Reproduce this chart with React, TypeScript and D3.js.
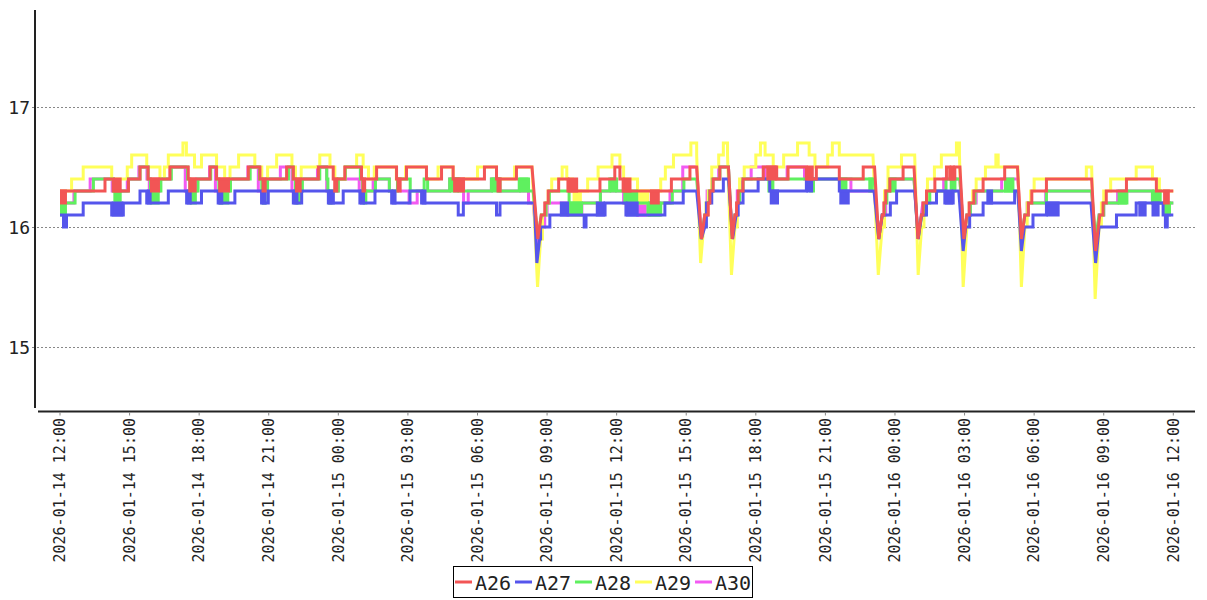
import { useEffect, useMemo, useRef } from "react";
import * as d3 from "d3";
import React from "react";

const WIDTH = 1207;
const HEIGHT = 600;
const PLOT = { left: 60, right: 1173.3, axisX: 35, axisY: 411.5, top: 10, end: 1195 };
const FONT = "'DejaVu Sans Mono', 'Liberation Mono', monospace";

// time axis: hours counted from the first tick
const START = Date.UTC(2026, 0, 14, 12);
const END = Date.UTC(2026, 0, 16, 12);
const Y_TICKS = [15, 16, 17];

const SERIES = ["A26", "A27", "A28", "A29", "A30"];
const COLORS = ["#f25555", "#5555ec", "#5ff05f", "#ffff5a", "#f25af2"];

// [hour, value] = step to value at hour, [hour, value, 1] = straight ramp to it
type Pt = number[];
// [fromHour, toHour, low, high] = stretch where the reading flickers between two values
type Band = number[];

const A26: Pt[] = [
  [0, 16.3], [1.94, 16.4], [2.3, 16.3], [2.95, 16.4], [3.45, 16.5], [3.8, 16.4], [4.74, 16.5], [5.53, 16.4],
  [6.47, 16.5], [6.75, 16.4], [8.12, 16.5], [8.62, 16.4], [9.77, 16.5], [10.06, 16.4], [11.14, 16.5], [11.78, 16.4],
  [12.28, 16.5], [13.0, 16.4], [13.65, 16.5], [14.51, 16.4], [14.94, 16.5], [15.8, 16.4], [16.45, 16.5], [16.95, 16.4],
  [18.3, 16.5], [18.82, 16.4], [19.68, 16.5], [20.35, 16.5], [20.6, 15.9, 1], [20.75, 16.1, 1], [20.9, 16.2], [21.05, 16.3],
  [21.5, 16.4], [21.9, 16.3], [23.28, 16.4], [23.92, 16.5], [24.14, 16.4], [24.28, 16.3], [26.36, 16.4], [27.16, 16.5],
  [27.45, 16.5], [27.66, 15.9, 1], [27.8, 16.1, 1], [27.95, 16.2], [28.02, 16.3], [28.16, 16.4], [28.45, 16.5], [28.82, 16.5],
  [28.98, 15.9, 1], [29.1, 16.1, 1], [29.17, 16.2], [29.24, 16.3], [29.45, 16.4], [30.32, 16.5], [30.9, 16.4], [31.39, 16.5],
  [32.18, 16.4], [32.61, 16.5], [33.6, 16.4], [34.63, 16.5], [35.12, 16.5], [35.3, 15.9, 1], [35.45, 16.1, 1], [35.52, 16.2],
  [35.6, 16.3], [35.78, 16.4], [36.35, 16.5], [36.82, 16.5], [36.99, 15.9, 1], [37.14, 16.1, 1], [37.21, 16.2], [37.36, 16.3],
  [37.72, 16.4], [38.22, 16.5], [38.36, 16.4], [38.58, 16.5], [38.8, 16.5], [38.97, 15.9, 1], [39.1, 16.1, 1], [39.2, 16.2],
  [39.4, 16.3], [39.8, 16.4], [40.73, 16.5], [41.28, 16.5], [41.45, 15.9, 1], [41.6, 16.1, 1], [41.75, 16.2], [41.9, 16.3],
  [42.53, 16.4], [44.48, 16.4], [44.65, 15.8, 1], [44.83, 16.1, 1], [44.97, 16.2], [45.11, 16.3], [45.98, 16.4], [47.27, 16.3],
  [48, 16.3],
];
const A26_BANDS: Band[] = [
  [0, 0.3, 16.2, 16.3], [2.3, 2.66, 16.3, 16.4], [3.88, 4.31, 16.3, 16.4], [5.53, 5.89, 16.3, 16.4], [6.82, 7.33, 16.3, 16.4],
  [8.69, 8.91, 16.3, 16.4], [10.13, 10.42, 16.3, 16.4], [11.78, 12.0, 16.3, 16.4], [13.0, 13.2, 16.3, 16.4],
  [14.51, 14.73, 16.3, 16.4], [16.95, 17.46, 16.3, 16.4], [18.82, 19.04, 16.3, 16.4], [21.9, 22.34, 16.3, 16.4],
  [24.28, 24.64, 16.3, 16.4], [25.43, 25.86, 16.2, 16.3], [30.45, 30.9, 16.4, 16.5], [32.18, 32.5, 16.4, 16.5],
  [38.36, 38.58, 16.4, 16.5], [47.56, 47.85, 16.2, 16.3],
];

const A27: Pt[] = [
  [0, 16.1], [0.15, 16.0], [0.28, 16.1], [1.0, 16.2], [2.23, 16.1], [2.73, 16.2], [3.45, 16.3], [3.74, 16.2], [4.67, 16.3],
  [5.46, 16.2], [6.1, 16.3], [6.82, 16.2], [7.54, 16.3], [8.69, 16.2], [8.98, 16.3], [10.06, 16.2], [10.42, 16.3],
  [11.57, 16.2], [12.21, 16.3], [12.93, 16.2], [13.58, 16.3], [14.3, 16.2], [15.09, 16.3], [15.59, 16.2], [17.17, 16.1],
  [17.39, 16.2], [18.82, 16.1], [18.97, 16.2], [20.45, 16.2], [20.56, 15.7, 1], [20.68, 15.9, 1], [20.72, 16.0],
  [21.12, 16.1], [22.6, 16.0], [22.68, 16.1], [23.5, 16.2], [24.4, 16.1], [26.08, 16.2], [26.87, 16.3], [27.45, 16.3],
  [27.65, 15.9, 1], [27.8, 16.0, 1], [27.87, 16.2], [28.1, 16.3], [28.6, 16.4], [28.82, 16.4], [29.0, 15.9, 1],
  [29.15, 16.1, 1], [29.24, 16.2], [29.45, 16.3], [30.1, 16.4], [30.6, 16.3], [32.18, 16.4], [33.6, 16.3], [35.1, 16.3],
  [35.3, 15.9, 1], [35.45, 16.1, 1], [35.8, 16.2], [36.07, 16.3], [36.85, 16.3], [37.0, 15.9, 1], [37.15, 16.1, 1],
  [37.36, 16.2], [37.79, 16.3], [38.15, 16.2], [38.51, 16.3], [38.75, 16.3], [38.94, 15.8, 1], [39.05, 16.0, 1],
  [39.22, 16.1], [39.8, 16.2], [41.16, 16.3], [41.3, 16.3], [41.45, 15.8, 1], [41.58, 16.0, 1], [41.95, 16.1],
  [42.53, 16.2], [44.45, 16.2], [44.65, 15.7, 1], [44.8, 16.0, 1], [45.55, 16.1], [46.4, 16.2], [47.56, 16.1],
  [47.66, 16.0], [47.74, 16.1], [48, 16.1],
];
const A27_BANDS: Band[] = [
  [2.23, 2.73, 16.1, 16.2], [3.74, 3.95, 16.2, 16.3], [5.46, 5.68, 16.2, 16.3], [6.82, 7.04, 16.2, 16.3],
  [8.69, 8.91, 16.2, 16.3], [10.06, 10.28, 16.2, 16.3], [11.57, 11.85, 16.2, 16.3], [12.93, 13.15, 16.2, 16.3],
  [14.3, 14.51, 16.2, 16.3], [15.59, 15.8, 16.2, 16.3], [21.55, 21.95, 16.1, 16.2], [23.1, 23.5, 16.1, 16.2],
  [24.4, 24.95, 16.1, 16.2], [30.6, 31.0, 16.2, 16.3], [32.18, 32.47, 16.3, 16.4], [33.6, 34.05, 16.2, 16.3],
  [38.15, 38.51, 16.2, 16.3], [39.94, 40.23, 16.2, 16.3], [42.53, 43.1, 16.1, 16.2], [46.49, 46.85, 16.1, 16.2],
  [47.06, 47.41, 16.1, 16.2],
];

const A28: Pt[] = [
  [0, 16.2], [0.65, 16.3], [1.44, 16.4], [2.3, 16.3], [2.95, 16.4], [3.45, 16.5], [3.8, 16.4], [3.9, 16.3], [4.35, 16.4],
  [4.8, 16.5], [5.5, 16.4], [5.6, 16.3], [5.95, 16.4], [6.5, 16.5], [6.75, 16.4], [6.85, 16.3], [7.35, 16.4], [8.2, 16.5],
  [8.6, 16.4], [8.7, 16.3], [8.95, 16.4], [9.85, 16.5], [10.05, 16.4], [10.15, 16.3], [10.45, 16.4], [11.2, 16.5],
  [11.5, 16.4], [11.55, 16.3], [12.0, 16.4], [12.3, 16.5], [12.95, 16.4], [13.05, 16.3], [13.6, 16.4], [14.2, 16.3],
  [14.55, 16.4], [15.1, 16.3], [15.7, 16.4], [15.85, 16.3], [16.8, 16.4], [17.2, 16.3], [18.6, 16.4], [18.97, 16.3],
  [19.8, 16.4], [20.2, 16.3], [20.4, 16.3], [20.6, 15.9, 1], [20.75, 16.1, 1], [20.95, 16.2], [21.1, 16.3], [21.95, 16.2],
  [23.3, 16.3], [23.7, 16.4], [24.0, 16.3], [24.35, 16.2], [25.35, 16.1], [25.9, 16.2], [26.4, 16.3], [26.9, 16.4],
  [27.45, 16.4], [27.65, 15.9, 1], [27.8, 16.1, 1], [27.9, 16.2], [28.0, 16.3], [28.15, 16.4], [28.45, 16.5],
  [28.82, 16.5], [28.98, 15.9, 1], [29.1, 16.1, 1], [29.2, 16.2], [29.3, 16.3], [29.45, 16.4], [35.1, 16.4],
  [35.3, 15.9, 1], [35.45, 16.1, 1], [35.55, 16.2], [35.65, 16.3], [35.78, 16.4], [36.82, 16.4], [37.0, 15.9, 1],
  [37.15, 16.1, 1], [37.3, 16.2], [37.5, 16.3], [38.2, 16.4], [38.8, 16.4], [38.97, 15.9, 1], [39.1, 16.1, 1],
  [39.25, 16.2], [39.45, 16.3], [41.3, 16.3], [41.45, 15.9, 1], [41.6, 16.1, 1], [41.75, 16.2], [42.53, 16.3],
  [44.48, 16.3], [44.65, 15.9, 1], [44.8, 16.1, 1], [45.0, 16.2], [46.0, 16.3], [47.1, 16.2], [48, 16.2],
];
const A28_BANDS: Band[] = [
  [0, 0.3, 16.1, 16.2], [2.3, 2.66, 16.2, 16.3], [3.9, 4.3, 16.2, 16.3], [5.6, 5.9, 16.2, 16.3], [6.85, 7.3, 16.2, 16.3],
  [8.7, 8.9, 16.2, 16.3], [10.15, 10.4, 16.2, 16.3], [11.55, 11.75, 16.2, 16.3], [13.05, 13.25, 16.2, 16.3],
  [16.8, 17.2, 16.3, 16.4], [18.6, 18.97, 16.3, 16.4], [19.8, 20.2, 16.3, 16.4], [21.95, 22.55, 16.1, 16.2],
  [23.7, 24.0, 16.3, 16.4], [24.35, 24.93, 16.2, 16.3], [25.35, 25.9, 16.1, 16.2], [30.5, 30.8, 16.3, 16.4],
  [32.3, 32.55, 16.3, 16.4], [33.65, 33.95, 16.3, 16.4], [34.85, 35.05, 16.3, 16.4], [35.78, 36.07, 16.3, 16.4],
  [38.36, 38.65, 16.3, 16.4], [40.7, 41.15, 16.3, 16.4], [45.6, 46.0, 16.2, 16.3], [47.1, 47.5, 16.2, 16.3],
  [47.6, 47.9, 16.1, 16.2],
];

const A29: Pt[] = [
  [0, 16.3], [0.5, 16.4], [1.0, 16.5], [2.23, 16.4], [2.9, 16.5], [3.09, 16.6], [3.74, 16.5], [4.31, 16.4], [4.5, 16.5],
  [4.67, 16.6], [5.3, 16.7], [5.45, 16.6], [5.8, 16.5], [6.1, 16.6], [6.75, 16.5], [7.1, 16.4], [7.33, 16.5], [7.7, 16.6],
  [8.4, 16.5], [8.7, 16.4], [8.95, 16.5], [9.34, 16.6], [10.0, 16.5], [10.15, 16.4], [10.4, 16.5], [11.2, 16.6],
  [11.64, 16.5], [11.85, 16.4], [12.3, 16.5], [12.79, 16.6], [13.07, 16.5], [13.3, 16.4], [13.55, 16.5], [14.5, 16.4],
  [14.9, 16.5], [15.8, 16.4], [16.3, 16.5], [16.95, 16.4], [18.0, 16.5], [18.82, 16.4], [19.6, 16.5], [20.35, 16.5],
  [20.59, 15.5, 1], [20.72, 15.9, 1], [20.8, 16.1], [20.95, 16.2], [21.05, 16.3], [21.2, 16.4], [21.65, 16.5],
  [21.85, 16.4], [22.1, 16.3], [22.75, 16.4], [23.2, 16.5], [23.8, 16.6], [24.14, 16.5], [24.3, 16.4], [24.9, 16.3],
  [25.9, 16.4], [26.1, 16.5], [26.45, 16.6], [27.2, 16.7], [27.45, 16.6], [27.62, 15.7, 1], [27.75, 16.0, 1],
  [27.85, 16.2], [27.95, 16.3], [28.1, 16.5], [28.4, 16.6], [28.6, 16.7], [28.78, 16.6], [28.95, 15.6, 1],
  [29.1, 16.0, 1], [29.2, 16.2], [29.3, 16.4], [29.5, 16.5], [30.0, 16.6], [30.2, 16.7], [30.4, 16.6], [30.75, 16.5],
  [31.2, 16.6], [31.8, 16.7], [32.3, 16.6], [32.55, 16.5], [33.1, 16.6], [33.3, 16.7], [33.6, 16.6], [35.05, 16.6],
  [35.28, 15.6, 1], [35.45, 16.0, 1], [35.55, 16.3], [35.7, 16.5], [36.28, 16.6], [36.85, 16.6], [37.0, 15.6, 1],
  [37.15, 16.0, 1], [37.25, 16.2], [37.4, 16.4], [37.7, 16.5], [38.0, 16.6], [38.65, 16.7], [38.78, 16.6],
  [38.94, 15.5, 1], [39.1, 16.0, 1], [39.2, 16.2], [39.35, 16.3], [39.5, 16.4], [39.9, 16.5], [40.35, 16.6],
  [40.45, 16.5], [41.3, 16.5], [41.45, 15.5, 1], [41.6, 16.0, 1], [41.7, 16.2], [41.85, 16.3], [42.0, 16.4],
  [44.25, 16.5], [44.48, 16.5], [44.63, 15.4, 1], [44.8, 16.0, 1], [44.9, 16.2], [45.0, 16.3], [45.3, 16.4],
  [46.4, 16.5], [47.1, 16.4], [47.4, 16.3], [48, 16.3],
];
const A29_BANDS: Band[] = [[22.1, 22.5, 16.2, 16.3], [24.9, 25.4, 16.2, 16.3]];

const A30: Pt[] = [
  [0, 16.2], [0.6, 16.3], [1.3, 16.4], [2.25, 16.3], [2.9, 16.4], [3.4, 16.5], [3.75, 16.4], [3.85, 16.3], [4.3, 16.4],
  [4.75, 16.5], [5.4, 16.3], [5.9, 16.4], [6.45, 16.5], [6.7, 16.3], [7.3, 16.4], [8.1, 16.5], [8.55, 16.3], [8.9, 16.4],
  [9.5, 16.5], [10.0, 16.3], [10.4, 16.4], [11.1, 16.5], [11.5, 16.3], [12.0, 16.4], [12.9, 16.3], [13.5, 16.4],
  [14.2, 16.3], [15.05, 16.2], [15.4, 16.3], [16.8, 16.4], [17.4, 16.2], [17.6, 16.3], [18.6, 16.4], [18.9, 16.3],
  [20.2, 16.2], [20.4, 16.2], [20.6, 15.8, 1], [20.75, 16.0, 1], [20.9, 16.1], [21.0, 16.2], [21.9, 16.1], [22.5, 16.2],
  [23.3, 16.3], [24.3, 16.2], [24.9, 16.1], [25.4, 16.2], [26.3, 16.3], [26.85, 16.5], [27.45, 16.5], [27.65, 15.9, 1],
  [27.8, 16.1, 1], [27.9, 16.3], [28.1, 16.4], [28.4, 16.5], [28.82, 16.5], [28.98, 15.9, 1], [29.1, 16.1, 1],
  [29.2, 16.3], [29.4, 16.4], [29.8, 16.5], [30.4, 16.4], [31.35, 16.5], [32.1, 16.4], [34.1, 16.3], [35.1, 16.3],
  [35.3, 15.9, 1], [35.45, 16.1, 1], [35.6, 16.3], [35.75, 16.4], [36.82, 16.4], [37.0, 15.9, 1], [37.2, 16.2, 1],
  [37.4, 16.3], [38.1, 16.4], [38.8, 16.4], [38.97, 15.9, 1], [39.1, 16.1, 1], [39.25, 16.2], [39.5, 16.3],
  [40.6, 16.4], [41.3, 16.4], [41.45, 15.9, 1], [41.6, 16.1, 1], [41.7, 16.2], [42.5, 16.3], [44.48, 16.3],
  [44.65, 15.8, 1], [44.8, 16.1, 1], [45.0, 16.2], [45.6, 16.3], [47.1, 16.2], [48, 16.2],
];
const A30_BANDS: Band[] = [[24.9, 25.3, 16.1, 16.2]];

const SERIES_POINTS = [A26, A27, A28, A29, A30];
const SERIES_BANDS = [A26_BANDS, A27_BANDS, A28_BANDS, A29_BANDS, A30_BANDS];

const toDate = (h: number) => new Date(START + h * 3600 * 1000);

// turn step readings into a drawable polyline
const expand = (pts: Pt[]) => {
  const out: [number, number][] = [];
  pts.forEach((p, i) => {
    if (i > 0 && !p[2]) out.push([p[0], out[out.length - 1][1]]);
    out.push([p[0], p[1]]);
  });
  return out;
};

export default function App() {
  const axesRef = useRef(null);

  const xScale = useMemo(
    () => d3.scaleUtc().domain([new Date(START), new Date(END)]).range([PLOT.left, PLOT.right]),
    []
  );
  const yScale = useMemo(() => d3.scaleLinear().domain([15, 17]).range([347, 107]), []);

  const lineGen = d3
    .line<[number, number]>()
    .x((d) => xScale(toDate(d[0])))
    .y((d) => yScale(d[1]));

  useEffect(() => {
    const g = d3.select(axesRef.current);
    g.selectAll("*").remove();

    // grid + y labels
    Y_TICKS.forEach((v) => {
      const y = Math.round(yScale(v)) + 0.5;
      g.append("line")
        .attr("x1", 37).attr("x2", PLOT.end).attr("y1", y).attr("y2", y)
        .attr("stroke", "#888").attr("stroke-dasharray", "2,2");
      g.append("line")
        .attr("x1", PLOT.axisX - 3).attr("x2", PLOT.axisX).attr("y1", y).attr("y2", y)
        .attr("stroke", "#888");
      g.append("text")
        .attr("x", 30).attr("y", y).attr("dy", "0.35em")
        .attr("text-anchor", "end")
        .style("font-family", FONT).style("font-size", "18px").style("fill", "#222")
        .text(String(v));
    });

    // axis lines
    g.append("line")
      .attr("x1", PLOT.axisX).attr("x2", PLOT.axisX).attr("y1", PLOT.top).attr("y2", 408)
      .attr("stroke", "#222").attr("stroke-width", 2);
    g.append("line")
      .attr("x1", 38).attr("x2", PLOT.end).attr("y1", PLOT.axisY).attr("y2", PLOT.axisY)
      .attr("stroke", "#222").attr("stroke-width", 2);

    // x ticks, every 3 hours
    const fmt = d3.utcFormat("%Y-%m-%d %H:%M");
    xScale.ticks(d3.utcHour.every(3)!).forEach((d) => {
      const x = xScale(d);
      g.append("line")
        .attr("x1", x).attr("x2", x).attr("y1", PLOT.axisY + 1).attr("y2", PLOT.axisY + 4)
        .attr("stroke", "#888");
      g.append("text")
        .attr("transform", `translate(${x},418) rotate(-90)`)
        .attr("dy", "0.35em")
        .attr("text-anchor", "end")
        .style("font-family", FONT).style("font-size", "15px").style("fill", "#222")
        .text(fmt(d));
    });

    // legend
    const legend = g.append("g");
    legend.append("rect")
      .attr("x", 453.5).attr("y", 566.5).attr("width", 299).attr("height", 31)
      .attr("fill", "#fff").attr("stroke", "#000");
    SERIES.forEach((name, i) => {
      const x0 = 455 + i * 60;
      legend.append("line")
        .attr("x1", x0).attr("x2", x0 + 17).attr("y1", 582).attr("y2", 582)
        .attr("stroke", COLORS[i]).attr("stroke-width", 3);
      legend.append("text")
        .attr("x", x0 + 20).attr("y", 590)
        .style("font-family", FONT).style("font-size", "20px").style("fill", "#222")
        .text(name);
    });
  }, [xScale, yScale]);

  // A26 ends up on top, A30 underneath
  const order = [4, 3, 2, 1, 0];

  return (
    <svg
      width={WIDTH}
      height={HEIGHT}
      style={{ position: "absolute", left: 0, top: 0, display: "block", background: "#fff" }}
    >
      <g ref={axesRef} />
      {order.map((i) => (
        <g key={SERIES[i]}>
          {SERIES_BANDS[i].map((b, j) => (
            <rect
              key={j}
              x={xScale(toDate(b[0]))}
              width={xScale(toDate(b[1])) - xScale(toDate(b[0]))}
              y={yScale(b[3]) - 1.5}
              height={yScale(b[2]) - yScale(b[3]) + 3}
              fill={COLORS[i]}
            />
          ))}
          <path
            d={lineGen(expand(SERIES_POINTS[i])) || ""}
            fill="none"
            stroke={COLORS[i]}
            strokeWidth={3}
            strokeLinejoin="miter"
          />
        </g>
      ))}
    </svg>
  );
}
